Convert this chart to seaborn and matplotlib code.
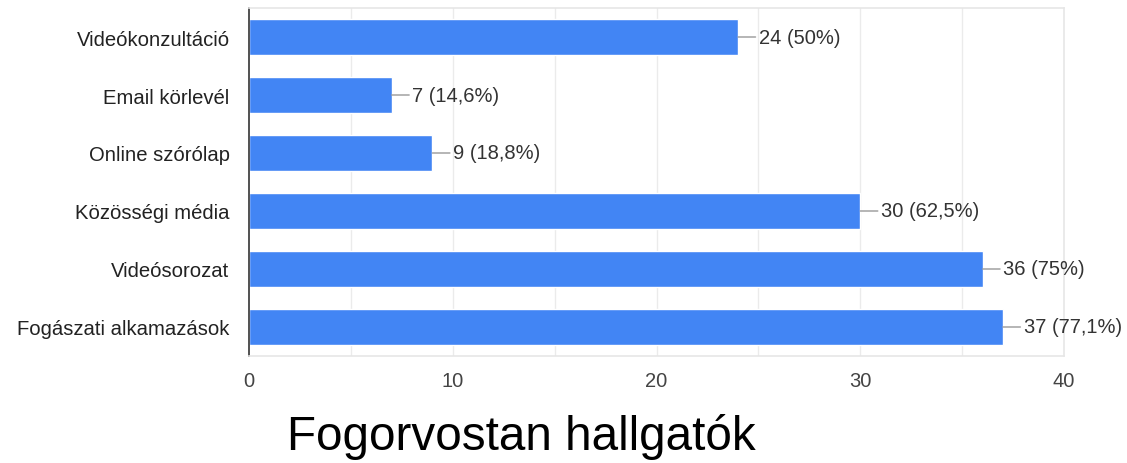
import matplotlib
matplotlib.use("Agg")
import matplotlib.pyplot as plt
import seaborn as sns
import pandas as pd

categories = ['Videókonzultáció', 'Email körlevél', 'Online szórólap',
              'Közösségi média', 'Videósorozat', 'Fogászati alkamazások']
counts = [24, 7, 9, 30, 36, 37]
pct_labels = ['50%', '14,6%', '18,8%', '62,5%', '75%', '77,1%']
x_ticks = [0, 10, 20, 30, 40]
title = 'Fogorvostan hallgatók'

sns.set_style('white')
plt.rcParams['font.family'] = ['Liberation Sans', 'DejaVu Sans']

df = pd.DataFrame({'cat': categories, 'n': counts})

fig = plt.figure(figsize=(11.27, 4.64), dpi=100)
ax = fig.add_axes([249/1127, 107/464, 815/1127, 348/464])

sns.barplot(data=df, x='n', y='cat', orient='h', color='#4285F4',
            saturation=1, width=0.62, ax=ax)

ax.set_xlim(0, 40)
ax.set_ylim(len(categories) - 0.5, -0.5)
ax.set_xticks(x_ticks)
ax.set_xticklabels([str(t) for t in x_ticks], fontsize=14.5, color='#444444')
for g in range(5, 40, 5):
    ax.axvline(g, color='#ebebeb', lw=1, zorder=0)
ax.tick_params(axis='y', labelsize=14.6, labelcolor='#222222', length=0, pad=14)
ax.tick_params(axis='x', length=0, pad=11)
ax.set_xlabel('')
ax.set_ylabel('')

for side in ['top', 'right', 'bottom']:
    ax.spines[side].set_color('#e6e6e6')
    ax.spines[side].set_linewidth(1.2)
ax.spines['left'].set_color('#333333')
ax.spines['left'].set_linewidth(1.2)

for i, (v, p) in enumerate(zip(counts, pct_labels)):
    ax.annotate(f'{v} ({p})', xy=(v, i), xytext=(15, 0), textcoords='offset points',
                ha='left', va='center', fontsize=14.5, color='#333333',
                arrowprops=dict(arrowstyle='-', color='#999999', lw=1,
                                shrinkA=0, shrinkB=0))

fig.text(521/1127, 1 - 437/464, title, ha='center', va='center',
         fontsize=34.3, color='black')

fig.savefig('out.png', dpi=100)
